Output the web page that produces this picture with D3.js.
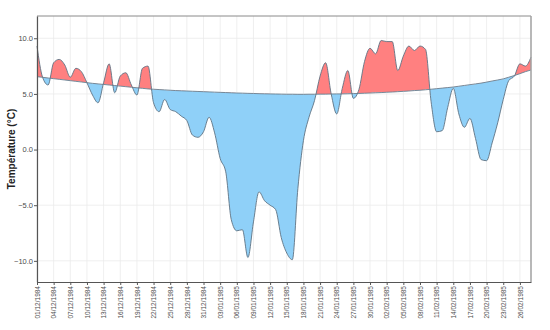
<!DOCTYPE html>
<html><head><meta charset="utf-8">
<script src="https://cdnjs.cloudflare.com/ajax/libs/d3/7.8.5/d3.min.js"></script>
<style>
body{margin:0;background:#fff;}
svg text{font-family:"Liberation Sans",Arial,sans-serif;}
</style></head>
<body><svg id="c" width="550" height="330"></svg>
<script>
const startDate = "1984-12-01";
const temperature = [9.3,6.5,5.8,7.8,8.1,7.6,6.5,7.3,7.0,6.0,
4.9,4.2,6.0,7.7,5.1,6.6,6.9,5.8,4.9,7.3,
7.5,4.2,3.4,4.5,3.6,3.4,3.0,2.6,1.3,1.1,
1.6,2.9,1.5,-0.8,-2.0,-6.3,-7.3,-7.2,-9.7,-6.5,
-3.8,-4.6,-5.0,-5.4,-7.9,-9.3,-9.9,-3.5,0.8,2.9,
4.4,6.6,7.8,5.0,3.2,5.5,7.1,4.6,5.4,7.9,
9.1,8.6,9.8,9.7,9.7,7.1,8.4,9.3,8.9,9.3,
9.0,4.3,1.6,1.7,3.8,5.5,3.2,2.0,2.8,1.0,
-0.9,-1.0,0.6,2.4,4.5,6.2,6.6,7.7,7.5,8.3];
const normal = [6.55,6.49,6.43,6.37,6.31,6.25,6.19,6.13,6.07,6.01,
5.95,5.90,5.85,5.80,5.75,5.70,5.65,5.60,5.55,5.50,
5.45,5.42,5.39,5.36,5.33,5.30,5.28,5.26,5.24,5.22,
5.20,5.18,5.16,5.14,5.12,5.10,5.08,5.07,5.05,5.04,
5.02,5.01,5.00,4.99,4.98,4.97,4.97,4.96,4.96,4.97,
4.97,4.98,4.98,4.99,5.00,5.00,5.01,5.03,5.04,5.06,
5.08,5.10,5.12,5.15,5.17,5.20,5.23,5.26,5.30,5.33,
5.37,5.42,5.47,5.52,5.57,5.62,5.69,5.76,5.83,5.90,
5.97,6.06,6.16,6.25,6.35,6.50,6.65,6.82,7.00,7.15];
const xTickLabels = ["01/12/1984","04/12/1984","07/12/1984","10/12/1984","13/12/1984","16/12/1984","19/12/1984","22/12/1984","25/12/1984","28/12/1984","31/12/1984","03/01/1985","06/01/1985","09/01/1985","12/01/1985","15/01/1985","18/01/1985","21/01/1985","24/01/1985","27/01/1985","30/01/1985","02/02/1985","05/02/1985","08/02/1985","11/02/1985","14/02/1985","17/02/1985","20/02/1985","23/02/1985","26/02/1985"];
const yTicks = [-10,-5,0,5,10];

const parse = d3.timeParse("%Y-%m-%d");
const parseTick = d3.timeParse("%d/%m/%Y");
const fmt = d3.timeFormat("%d/%m/%Y");
const start = parse(startDate);
const data = temperature.map((t,i)=>({date:d3.timeDay.offset(start,i),t:t,n:normal[i]}));

const W=550,H=330,m={l:37,t:16,r:19,b:48};
const w=W-m.l-m.r,h=H-m.t-m.b;
const svg=d3.select("#c");
const g=svg.append("g").attr("transform",`translate(${m.l},${m.t})`);

const x=d3.scaleTime().domain(d3.extent(data,d=>d.date)).range([0,w]);
const y=d3.scaleLinear().domain([-11.9,12.0]).range([h,0]);

// grid
const tickDates = xTickLabels.map(s=>parseTick(s));
g.append("g").selectAll("line").data(tickDates).join("line")
 .attr("x1",d=>x(d)).attr("x2",d=>x(d)).attr("y1",0).attr("y2",h)
 .attr("stroke","#ebebeb").attr("stroke-width",0.8);
g.append("g").selectAll("line").data(yTicks).join("line")
 .attr("x1",0).attr("x2",w).attr("y1",d=>y(d)).attr("y2",d=>y(d))
 .attr("stroke","#ebebeb").attr("stroke-width",0.8);

const curve=d3.curveMonotoneX;
const defs=svg.append("defs");
defs.append("clipPath").attr("id","above").append("path")
 .attr("d",d3.area().curve(curve).x(d=>x(d.date)).y0(0).y1(d=>y(d.n))(data));
defs.append("clipPath").attr("id","below").append("path")
 .attr("d",d3.area().curve(curve).x(d=>x(d.date)).y0(h).y1(d=>y(d.n))(data));

const diff=d3.area().curve(curve).x(d=>x(d.date)).y0(d=>y(d.n)).y1(d=>y(d.t));
g.append("path").attr("clip-path","url(#above)").attr("d",diff(data)).attr("fill","#ff8080");
g.append("path").attr("clip-path","url(#below)").attr("d",diff(data)).attr("fill","#8fd0f8");

g.append("path").attr("d",d3.line().curve(curve).x(d=>x(d.date)).y(d=>y(d.n))(data))
 .attr("fill","none").attr("stroke","#6a7f8e").attr("stroke-width",0.9);
g.append("path").attr("d",d3.line().curve(curve).x(d=>x(d.date)).y(d=>y(d.t))(data))
 .attr("fill","none").attr("stroke","#5f7383").attr("stroke-width",0.9);

// border top/right
g.append("line").attr("x1",0).attr("x2",w).attr("y1",0).attr("y2",0).attr("stroke","#8a8a8a").attr("stroke-width",1);
g.append("line").attr("x1",w).attr("x2",w).attr("y1",0).attr("y2",h).attr("stroke","#a0a0a0").attr("stroke-width",1.5);

// axes
const ya=g.append("g").call(d3.axisLeft(y).tickValues(yTicks).tickFormat(d3.format(".1f")).tickSize(3).tickSizeOuter(0));
ya.select(".domain").attr("stroke","#555").attr("stroke-width",1.2);
ya.selectAll(".tick line").attr("stroke","#555");
ya.selectAll(".tick text").attr("fill","#4d4d4d").style("font-size","7.5px").attr("x",-4);

const xa=g.append("g").attr("transform",`translate(0,${h})`)
 .call(d3.axisBottom(x).tickValues(tickDates).tickFormat(fmt).tickSize(3).tickSizeOuter(0));
xa.select(".domain").attr("stroke","#555").attr("stroke-width",1.2);
xa.selectAll(".tick line").attr("stroke","#555");
xa.selectAll(".tick text").attr("fill","#4d4d4d").style("font-size","6.5px")
 .attr("transform","rotate(-90)").attr("text-anchor","end").attr("x",-4).attr("y",0).attr("dy","0.33em");

svg.append("text").attr("transform",`translate(11,${m.t+h/2}) rotate(-90)`)
 .attr("text-anchor","middle").attr("dy","0.35em").style("font-size","10px").style("font-weight","bold").attr("fill","#222")
 .text("Température (°C)");
</script></body></html>
